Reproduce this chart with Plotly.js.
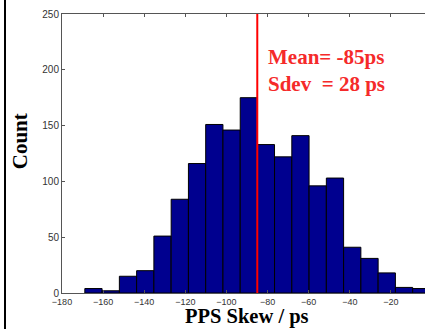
<!DOCTYPE html>
<html>
<head>
<meta charset="utf-8">
<script src="https://cdn.plot.ly/plotly-3.0.1.min.js"></script>
<style>
html,body{margin:0;padding:0;overflow:hidden;background:#fff;width:425px;height:329px;}
#chart{position:absolute;left:0;top:0;width:432px;height:329px;}
#frame{position:absolute;left:4px;top:0;width:2px;height:329px;background:#000;}
</style>
</head>
<body>
<div id="chart"></div>
<div id="frame"></div>
<script>
// Histogram bin centers (ps) and counts
const binCenters = [-164.7, -156.3, -147.9, -139.5, -131.1, -122.7, -114.3, -105.9, -97.5, -89.1,
                    -80.8, -72.4, -64.0, -55.6, -47.2, -38.8, -30.4, -22.0, -13.6, -5.2];
const counts = [4, 2, 15, 20, 51, 84, 116, 151, 146, 175,
                133, 122, 141, 96, 103, 41, 31, 18, 5, 4];
const binWidth = 8.39;
const meanSkew = -85;
const sdevSkew = 28;
const xTicks = [-180, -160, -140, -120, -100, -80, -60, -40, -20, 0];
const yTicks = [0, 50, 100, 150, 200, 250];

const traces = [{
  type: 'bar',
  x: binCenters,
  y: counts,
  width: binWidth,
  marker: {color: '#00008f', line: {color: '#000', width: 1}},
  hoverinfo: 'x+y'
}];

const layout = {
  width: 432, height: 329,
  margin: {l: 62, r: 0, t: 14, b: 36},
  paper_bgcolor: '#fff', plot_bgcolor: '#fff',
  showlegend: false,
  bargap: 0,
  xaxis: {
    range: [-180, 0],
    tickvals: xTicks,
    ticks: 'inside', ticklen: 3, tickcolor: '#555',
    showline: true, linecolor: '#555', linewidth: 1, mirror: 'ticks',
    showgrid: false, zeroline: false,
    tickfont: {family: 'Liberation Sans, Arial', size: 9, color: '#333'},
    title: {text: ''}
  },
  yaxis: {
    range: [0, 250],
    tickvals: yTicks,
    ticks: 'inside', ticklen: 3, tickcolor: '#555',
    showline: true, linecolor: '#555', linewidth: 1, mirror: 'ticks',
    showgrid: false, zeroline: false,
    tickfont: {family: 'Liberation Sans, Arial', size: 10, color: '#333'},
    title: {text: ''}
  },
  shapes: [{
    type: 'line', xref: 'x', yref: 'y',
    x0: meanSkew, x1: meanSkew, y0: 0, y1: 250,
    line: {color: '#ff0000', width: 2}
  }],
  annotations: [{
    xref: 'x', yref: 'y', x: meanSkew + 4.2, y: 224,
    xanchor: 'left', yanchor: 'top', align: 'left', showarrow: false,
    text: '<b>Mean= ' + meanSkew + 'ps<br>Sdev  = ' + sdevSkew + ' ps</b>',
    font: {family: 'Liberation Serif, Times New Roman', size: 21, color: '#f52a2a'}
  }, {
    xref: 'paper', yref: 'y', x: 0, xshift: -42, y: 136,
    xanchor: 'center', yanchor: 'middle', textangle: -90, showarrow: false,
    text: '<b>Count</b>',
    font: {family: 'Liberation Serif, Times New Roman', size: 21, color: '#000'}
  }, {
    xref: 'x', yref: 'paper', x: -90, y: 0, yshift: -36,
    xanchor: 'center', yanchor: 'bottom', showarrow: false, borderpad: 0,
    text: '<b>PPS Skew / ps</b>',
    font: {family: 'Liberation Serif, Times New Roman', size: 20.5, color: '#000'}
  }]
};

Plotly.newPlot('chart', traces, layout, {displayModeBar: false, staticPlot: true});
</script>
</body>
</html>
